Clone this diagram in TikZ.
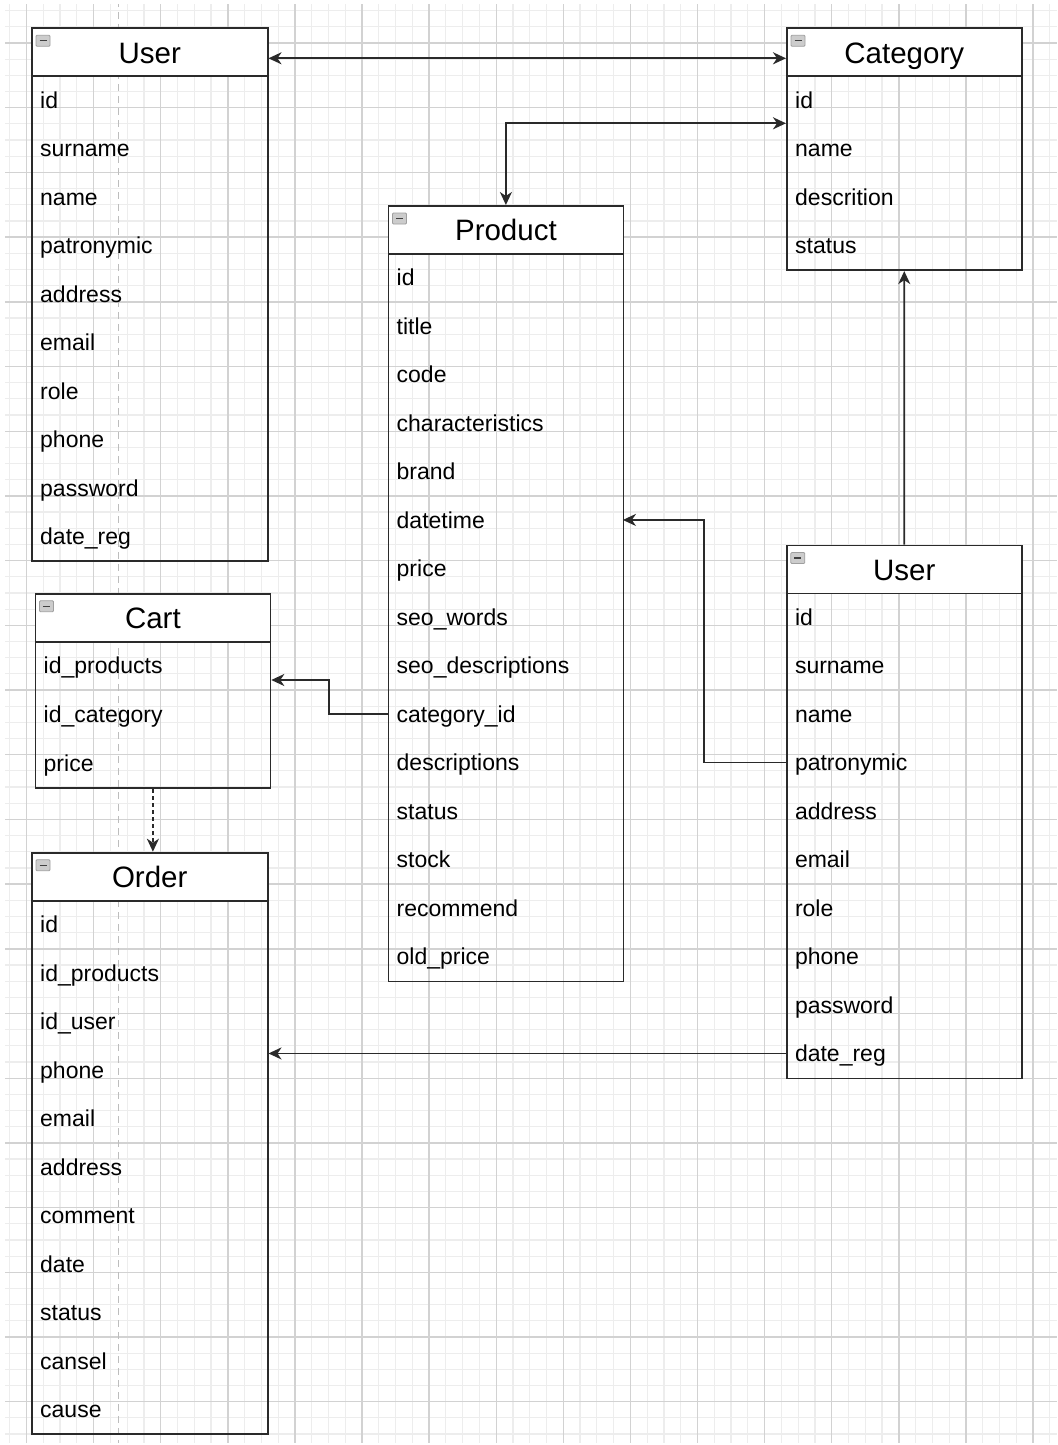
\documentclass[tikz,border=0pt]{standalone}
\usepackage{fontspec}
\setmainfont{Liberation Sans}
\usetikzlibrary{arrows.meta}
\definecolor{minorg}{HTML}{EDEDED}
\definecolor{majorg}{HTML}{D2D2D2}
\definecolor{pageg}{HTML}{BDBDBD}
\definecolor{edgec}{HTML}{2A2A2A}

\tikzset{
  minorgrid/.style={draw=minorg,line width=1.2pt},
  majorgrid/.style={draw=majorg,line width=1.4pt},
  pagebreak/.style={draw=pageg,line width=1.5pt,dash pattern=on 7pt off 5pt},
  tbox/.style={draw=edgec,line width=1.8pt,inner sep=0pt},
  hbox/.style={draw=edgec,fill=white,line width=1.8pt,inner sep=0pt,minimum height=48pt,
    font=\fontsize{29.5}{34}\selectfont,text height=28pt,text depth=6pt},
  rowbox/.style={inner xsep=9pt,inner ysep=0pt,align=left,
    font=\fontsize{23}{27}\selectfont,text height=22pt,text depth=5pt},
  iconbox/.style={draw=gray!75,fill=gray!40,line width=0.8pt,rounded corners=1pt},
  iconminus/.style={draw=black!75,line width=1.4pt},
  conn/.style={draw=edgec,line width=1.8pt},
  arr/.style={-{Stealth[length=13pt,width=12pt,inset=4pt]}},
  biarr/.style={{Stealth[length=13pt,width=12pt,inset=4pt]}-{Stealth[length=13pt,width=12pt,inset=4pt]}},
  dashconn/.style={dash pattern=on 4pt off 3pt}
}

% #1 name, #2 x, #3 y, #4 width, #5 row height, #6 number of rows, #7 title, #8 rows
\newcommand\ertable[8]{%
  \node[tbox,minimum width=#4,minimum height={48+#6*#5},anchor=north west] (#1) at (#2,#3) {};
  \node[hbox,minimum width=#4,anchor=north west] (#1-h) at (#2,#3) {#7};
  \draw[iconbox] (#1-h.north west) ++(5,8) rectangle ++(14,11);
  \draw[iconminus] (#1-h.north west) ++(8.5,13.5) -- ++(7,0);
  \pgfmathsetmacro\ertw{#4-18}
  \foreach \rowtxt [count=\i] in {#8} {
    \node[rowbox,minimum width=#4,minimum height=#5,text width=\ertw pt,anchor=north west]
      (#1-r\i) at (#2,{#3+48+(\i-1)*#5}) {\rowtxt};
  }
}

\begin{document}
\begin{tikzpicture}[x=1pt,y=-1pt]
\fill[white] (0,0) rectangle (1057,1445);
\useasboundingbox (0,0) rectangle (1057,1445);

% grid background
\begin{scope}
  \clip (5,5) rectangle (1057,1442);
  \foreach \k in {-2,...,62} \draw[minorgrid] ({26.5+16.775*\k},0) -- ++(0,1445);
  \foreach \k in {-3,...,88} \draw[minorgrid] (0,{43+16.175*\k}) -- ++(1057,0);
  \foreach \k in {0,...,15} \draw[majorgrid] ({26.5+67.1*\k},0) -- ++(0,1445);
  \foreach \k in {0,...,21} \draw[majorgrid] (0,{43+64.7*\k}) -- ++(1057,0);
  \draw[pagebreak] (118.5,0) -- (118.5,1445);
\end{scope}

% tables
\ertable{user1}{31}{27.3}{235.7}{48.5}{10}{User}{id,surname,name,patronymic,address,email,role,phone,password,date\_reg}
\ertable{cat}{786}{27.3}{234.7}{48.5}{4}{Category}{id,name,descrition,status}
\ertable{prod}{387.5}{205}{235}{48.5}{15}{Product}{id,title,code,characteristics,brand,datetime,price,seo\_words,seo\_descriptions,category\_id,descriptions,status,stock,recommend,old\_price}
\ertable{cart}{34.5}{592.7}{235}{48.9}{3}{Cart}{id\_products,id\_category,price}
\ertable{order}{31}{851.7}{235.7}{48.5}{11}{Order}{id,id\_products,id\_user,phone,email,address,comment,date,status,cansel,cause}
\ertable{user2}{785.8}{544.5}{235}{48.5}{10}{User}{id,surname,name,patronymic,address,email,role,phone,password,date\_reg}

% connectors
\draw[conn,biarr] ([yshift=-31pt]user1.north east) -- ([yshift=-31pt]cat.north west);
\draw[conn,biarr] (prod.north) |- ([yshift=-96pt]cat.north west);
\draw[conn,arr] (prod-r10.west) -- ++(-58.5,0) |- ([yshift=-87.3pt]cart.north east);
\draw[conn,arr] (user2-r4.west) -- ++(-81.8,0) |- (prod-r6.east);
\draw[conn,arr] (user2.north) -- (cat.south);
\draw[conn,arr,dashconn] (cart.south) -- (cart.south |- order.north);
\draw[conn,arr] (user2-r10.west) -- (user2-r10.west -| order.east);
\end{tikzpicture}
\end{document}
